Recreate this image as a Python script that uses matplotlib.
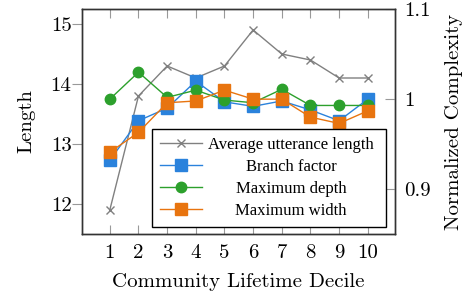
import matplotlib
matplotlib.use("Agg")
import matplotlib.pyplot as plt

# ---- data ----
deciles = [1, 2, 3, 4, 5, 6, 7, 8, 9, 10]
avg_utt_len = [11.9, 13.8, 14.3, 14.1, 14.3, 14.9, 14.5, 14.4, 14.1, 14.1]
branch_factor = [0.932, 0.976, 0.990, 1.020, 0.997, 0.992, 0.998, 0.988, 0.976, 1.000]
max_depth = [1.000, 1.030, 1.002, 1.010, 0.999, 0.996, 1.011, 0.993, 0.993, 0.993]
max_width = [0.941, 0.963, 0.996, 0.998, 1.010, 1.000, 1.000, 0.980, 0.973, 0.987]
left_ticks = [12, 13, 14, 15]
right_ticks = [0.9, 1.0, 1.1]
right_ticklabels = ["0.9", "1", "1.1"]
labels = ["Average utterance length", "Branch factor", "Maximum depth", "Maximum width"]

plt.rcParams['axes.unicode_minus'] = False
CM = 'cmr10'
FS = 15
GRAY = '#808080'
BLUE = '#2a82dc'
GREEN = '#2ca02c'
ORANGE = '#e8740f'
SPINE = '#333333'
TICK = '#999999'

fig = plt.figure(figsize=(4.69, 2.96), dpi=100)
ax = fig.add_axes([82/469, 1-234/296, (395-82)/469, (234-9)/296])
ax2 = ax.twinx()

l0, = ax.plot(deciles, avg_utt_len, color=GRAY, lw=1.0, marker='x', ms=6, mew=1.0)
l1, = ax2.plot(deciles, branch_factor, color=BLUE, lw=1.0, marker='s', ms=8, mec=BLUE)
l2, = ax2.plot(deciles, max_depth, color=GREEN, lw=1.0, marker='o', ms=7.5, mec=GREEN)
l3, = ax2.plot(deciles, max_width, color=ORANGE, lw=1.0, marker='s', ms=8, mec=ORANGE)

ax.set_xlim(0.03, 10.95)
ax.set_ylim(11.5, 15.25)
ax2.set_ylim(0.85, 1.1003)

ax.set_xticks(deciles)
ax.set_xticklabels([str(d) for d in deciles], fontfamily=CM, fontsize=FS)
ax.set_yticks(left_ticks)
ax.set_yticklabels([str(t) for t in left_ticks], fontfamily=CM, fontsize=FS)
ax2.set_yticks(right_ticks)
ax2.set_yticklabels(right_ticklabels, fontfamily=CM, fontsize=FS)

ax.tick_params(axis='x', direction='in', top=True, bottom=True, length=6.5, width=0.8, color=TICK, pad=7)
ax.tick_params(axis='y', direction='out', length=7, width=0.8, color=TICK, pad=0.5)
ax2.tick_params(axis='y', direction='in', length=7, width=0.8, color=TICK, pad=6.5)

for a in (ax, ax2):
    for s in a.spines.values():
        s.set_color(SPINE)
        s.set_linewidth(1.0)

ax.set_xlabel("Community Lifetime Decile", fontfamily=CM, fontsize=FS)
ax.set_ylabel("Length", fontfamily=CM, fontsize=FS)
ax2.set_ylabel("Normalized Complexity", fontfamily=CM, fontsize=FS)
ax.xaxis.set_label_coords(0.5, -0.175)
ax.yaxis.set_label_coords(-0.15, 0.5)
ax2.yaxis.set_label_coords(1.16, 0.5)

leg = ax2.legend([l0, l1, l2, l3], labels, loc='lower left',
                 bbox_to_anchor=((152-82)/313, (234-227)/225, (386-152)/313, 0.4),
                 mode='expand', numpoints=1, handlelength=2.5, handletextpad=0.35,
                 borderpad=0.5, labelspacing=0.35, borderaxespad=0,
                 fancybox=False, framealpha=1, edgecolor='black',
                 prop={'family': 'Liberation Serif', 'size': 12})
leg.get_frame().set_linewidth(1.0)

# centre legend texts in the space right of the handles
fig.canvas.draw()
r = fig.canvas.get_renderer()
texts = leg.get_texts()
bbs = [t.get_window_extent(r) for t in texts]
x_start = min(b.x0 for b in bbs)
fr = leg.get_frame().get_window_extent(r)
center = (x_start + fr.x1 - 12) / 2
for t, b in zip(texts, bbs):
    dx = center - (b.x0 + b.width / 2)
    t.set_position((dx, 0))

fig.savefig("out.png", dpi=100)
